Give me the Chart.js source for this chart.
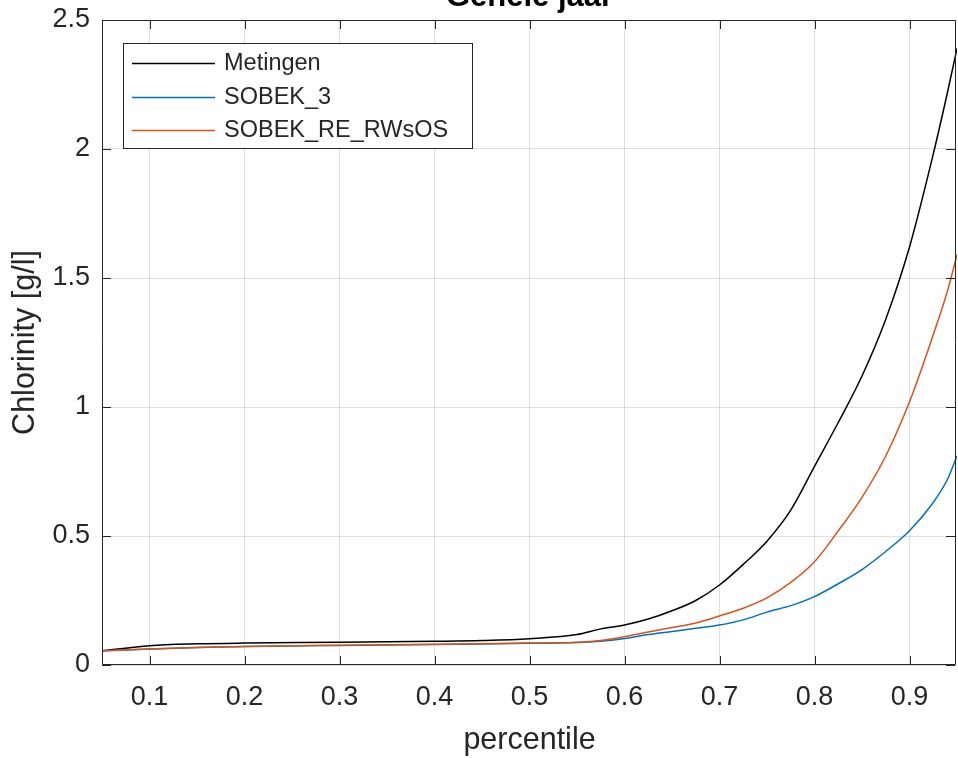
<!DOCTYPE html>
<html>
<head>
<meta charset="utf-8">
<script src="https://cdn.jsdelivr.net/npm/chart.js@4/dist/chart.umd.min.js"></script>
<style>
  html, body { margin: 0; padding: 0; background: #fff; overflow: hidden; }
  #wrap { position: relative; width: 958px; height: 758px; overflow: hidden; }
  #chart { position: absolute; left: 0; top: -20px; }
</style>
</head>
<body>
<div id="wrap"><canvas id="chart" width="958" height="790"></canvas></div>
<script>
// percentile positions (x) and chlorinity values (g/l)
const percentiles = [0.05, 0.1, 0.15, 0.2, 0.3, 0.4, 0.45, 0.5, 0.55, 0.575, 0.6, 0.625, 0.65,
  0.675, 0.7, 0.725, 0.75, 0.775, 0.8, 0.825, 0.85, 0.875, 0.9, 0.925, 0.94, 0.95];
const metingen = [0.055, 0.075, 0.082, 0.085, 0.088, 0.092, 0.095, 0.102, 0.118, 0.14, 0.155, 0.178, 0.21,
  0.25, 0.31, 0.39, 0.48, 0.60, 0.77, 0.94, 1.12, 1.34, 1.62, 1.98, 2.22, 2.39];
const sobek3 = [0.055, 0.062, 0.068, 0.072, 0.076, 0.079, 0.081, 0.084, 0.087, 0.092, 0.103, 0.118, 0.13,
  0.142, 0.155, 0.175, 0.205, 0.23, 0.265, 0.315, 0.37, 0.44, 0.52, 0.63, 0.72, 0.81];
const sobekRE = [0.055, 0.062, 0.068, 0.072, 0.077, 0.080, 0.082, 0.085, 0.088, 0.095, 0.11, 0.128, 0.145,
  0.163, 0.19, 0.22, 0.26, 0.32, 0.40, 0.52, 0.65, 0.81, 1.02, 1.28, 1.45, 1.59];

const seriesNames = ['Metingen', 'SOBEK_3', 'SOBEK_RE_RWsOS'];
const seriesColors = ['#000000', '#0072BD', '#D95319'];

const xTicks = [0.1, 0.2, 0.3, 0.4, 0.5, 0.6, 0.7, 0.8, 0.9];
const xTickLabels = ['0.1', '0.2', '0.3', '0.4', '0.5', '0.6', '0.7', '0.8', '0.9'];
const yTicks = [0, 0.5, 1, 1.5, 2, 2.5];
const yTickLabels = ['0', '0.5', '1', '1.5', '2', '2.5'];

const FONT = '"Liberation Sans", Arial, Helvetica, sans-serif';
const INK = '#262626';

const toPoints = (vals) => vals.map((v, i) => ({x: percentiles[i], y: v}));

// MATLAB-like box with inward ticks, plus the legend inside the axes
const axesBox = {
  id: 'axesBox',
  afterDatasetsDraw(chart) {
    const {ctx, chartArea: a, scales: {x, y}} = chart;
    const tl = 9;
    ctx.save();
    ctx.strokeStyle = INK;
    ctx.lineWidth = 1;
    ctx.beginPath();
    ctx.rect(Math.round(a.left) + 0.5, Math.round(a.top) + 0.5,
      Math.round(a.right - a.left) - 2, Math.round(a.bottom - a.top) - 1);
    xTicks.forEach((v) => {
      const px = Math.round(x.getPixelForValue(v)) + 0.5;
      ctx.moveTo(px, a.bottom); ctx.lineTo(px, a.bottom - tl);
      ctx.moveTo(px, a.top); ctx.lineTo(px, a.top + tl);
    });
    yTicks.forEach((v) => {
      const py = Math.round(y.getPixelForValue(v)) + 0.5;
      ctx.moveTo(a.left, py); ctx.lineTo(a.left + tl, py);
      ctx.moveTo(a.right - 2, py); ctx.lineTo(a.right - 2 - tl, py);
    });
    ctx.stroke();
    ctx.restore();
  },
  afterDraw(chart) {
    const {ctx} = chart;
    const off = 20; // canvas is shifted up by 20px
    ctx.save();
    ctx.fillStyle = '#fff';
    ctx.fillRect(123, 43 + off, 349, 105);
    ctx.strokeStyle = INK;
    ctx.lineWidth = 1;
    ctx.strokeRect(123.5, 43.5 + off, 349, 105);
    ctx.font = '23.5px ' + FONT;
    ctx.textBaseline = 'middle';
    ctx.textAlign = 'left';
    const rows = [63, 97, 130];
    seriesNames.forEach((name, i) => {
      const yy = rows[i] + off;
      ctx.strokeStyle = seriesColors[i];
      ctx.lineWidth = 1.3;
      ctx.beginPath();
      ctx.moveTo(132, yy + 0.5); ctx.lineTo(215, yy + 0.5);
      ctx.stroke();
      ctx.fillStyle = INK;
      ctx.fillText(name, 224, yy + 1);
    });
    ctx.restore();
  }
};

new Chart(document.getElementById('chart'), {
  type: 'line',
  data: {
    datasets: [
      {label: seriesNames[0], data: toPoints(metingen), borderColor: seriesColors[0], order: 3},
      {label: seriesNames[1], data: toPoints(sobek3), borderColor: seriesColors[1], order: 2},
      {label: seriesNames[2], data: toPoints(sobekRE), borderColor: seriesColors[2], order: 1}
    ]
  },
  options: {
    responsive: false,
    animation: false,
    devicePixelRatio: 1,
    layout: {padding: {left: 0, right: 1, top: 0, bottom: 0}},
    elements: {
      line: {borderWidth: 1.5, cubicInterpolationMode: 'monotone', fill: false},
      point: {radius: 0}
    },
    plugins: {
      legend: {display: false},
      tooltip: {enabled: false},
      title: {
        display: true,
        text: 'Gehele jaar',
        fullSize: false,
        color: '#000',
        font: {family: FONT, size: 31, weight: 'bold', lineHeight: 1.0},
        padding: {top: 2, bottom: 7}
      }
    },
    scales: {
      x: {
        type: 'linear',
        min: 0.05,
        max: 0.95,
        afterBuildTicks: (scale) => { scale.ticks = xTicks.map((v) => ({value: v})); },
        afterFit: (scale) => { scale.height = 105; },
        ticks: {
          callback: (v, i) => xTickLabels[i],
          color: INK,
          font: {family: FONT, size: 27},
          padding: 16,
          maxRotation: 0,
          autoSkip: false
        },
        grid: {color: 'rgba(38,38,38,0.15)', drawTicks: false},
        border: {display: false},
        title: {
          display: true,
          text: 'percentile',
          color: INK,
          font: {family: FONT, size: 30.5},
          padding: {top: 0, bottom: 11}
        }
      },
      y: {
        type: 'linear',
        min: 0,
        max: 2.5,
        afterBuildTicks: (scale) => { scale.ticks = yTicks.map((v) => ({value: v})); },
        afterFit: (scale) => { scale.width = 102; },
        ticks: {
          callback: (v, i) => yTickLabels[i],
          color: INK,
          font: {family: FONT, size: 27},
          padding: 12
        },
        grid: {color: 'rgba(38,38,38,0.15)', drawTicks: false},
        border: {display: false},
        title: {
          display: true,
          text: 'Chlorinity [g/l]',
          color: INK,
          font: {family: FONT, size: 30.5},
          padding: {top: 7, bottom: 0}
        }
      }
    }
  },
  plugins: [axesBox]
});
</script>
</body>
</html>
